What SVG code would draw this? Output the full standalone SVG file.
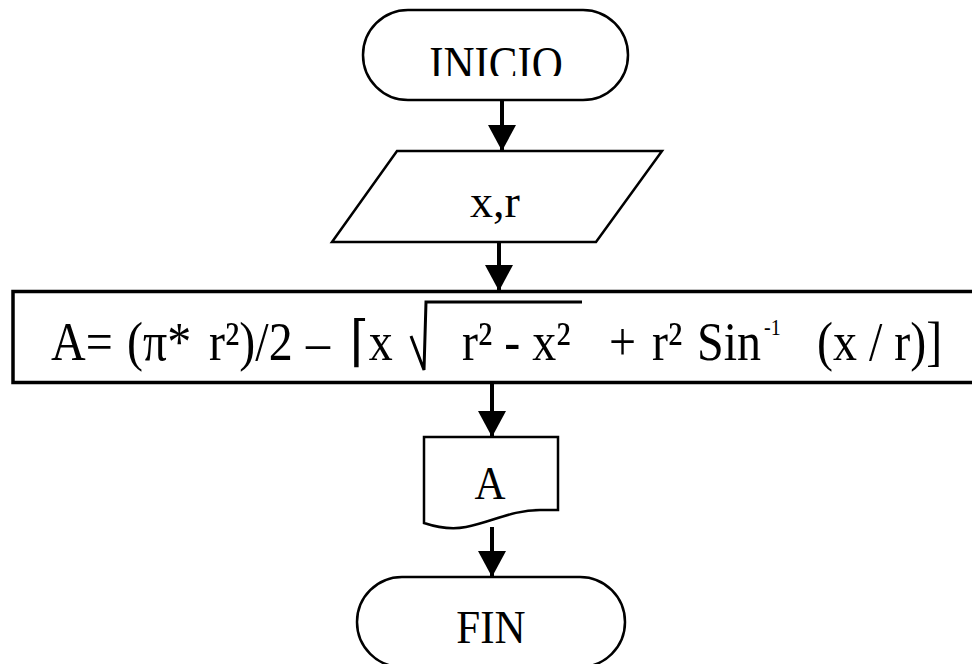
<svg xmlns="http://www.w3.org/2000/svg" width="972" height="664" viewBox="0 0 972 664">
<style>
.shape{fill:#fff;stroke:#000;stroke-width:2.5;stroke-linejoin:miter}
.lbl{font-family:"Liberation Serif","DejaVu Serif",serif;fill:#000}
.conn{stroke:#000;stroke-width:4;fill:none}
</style>
<defs>
<marker id="ah" markerUnits="userSpaceOnUse" markerWidth="28" markerHeight="28" refX="26" refY="14" orient="auto" viewBox="0 0 28 28">
<path d="M0,0 L26,14 L0,28 Z" fill="#000"/>
</marker>
<clipPath id="clipInicio"><rect x="363" y="10" width="265" height="66"/></clipPath>
</defs>
<rect width="972" height="664" fill="#fff"/>
<g id="connectors">
<line class="conn" x1="502" y1="100" x2="502" y2="151" marker-end="url(#ah)"/>
<line class="conn" x1="499" y1="242" x2="499" y2="291" marker-end="url(#ah)"/>
<line class="conn" x1="492" y1="383" x2="492" y2="437" marker-end="url(#ah)"/>
<line class="conn" x1="492" y1="527" x2="492" y2="577" marker-end="url(#ah)"/>
</g>
<g id="inicio">
<rect class="shape" x="363" y="10" width="265" height="90" rx="45" ry="45"/>
<g clip-path="url(#clipInicio)">
<text class="lbl" font-size="43" text-anchor="middle" transform="translate(496,80) scale(1,1.15)" x="0" y="0">INICIO</text>
</g>
</g>
<g id="input">
<polygon class="shape" points="397,151 662,151 596,242 332,242"/>
<text class="lbl" font-size="46" text-anchor="middle" x="495" y="217">x,r</text>
</g>
<g id="process">
<rect x="13" y="291.5" width="990" height="91" fill="#fff" stroke="#000" stroke-width="3.5"/>
<path d="M411,336 L424,370 L426,302 H582" fill="none" stroke="#000" stroke-width="3"/>
<g class="lbl" font-size="48" transform="translate(0,360) scale(1,1.15)">
<text x="51" y="0">A=</text>
<text x="127" y="0">(π*</text>
<text x="209" y="0">r²)/2</text>
<text x="306" y="0">–</text>
<text x="350" y="0">⌈x</text>
<text x="462" y="0">r² - x²</text>
<text x="609" y="0">+</text>
<text x="652" y="0">r²</text>
<text x="697" y="0">Sin</text>
<text x="764" y="-22" font-size="20">-1</text>
<text x="817" y="0">(x / r)]</text>
</g>
</g>
<g id="output">
<path class="shape" d="M424,437 H558 V510 H540 C512,510 492,522 466,527 C450,530 436,527 424,523 Z"/>
<text class="lbl" font-size="43" text-anchor="middle" transform="translate(490,499) scale(1,1.1)" x="0" y="0">A</text>
</g>
<g id="fin">
<rect class="shape" x="357" y="577" width="268" height="90" rx="45" ry="45"/>
<text class="lbl" font-size="43" text-anchor="middle" transform="translate(491,643) scale(1,1.1)" x="0" y="0">FIN</text>
</g>
</svg>
